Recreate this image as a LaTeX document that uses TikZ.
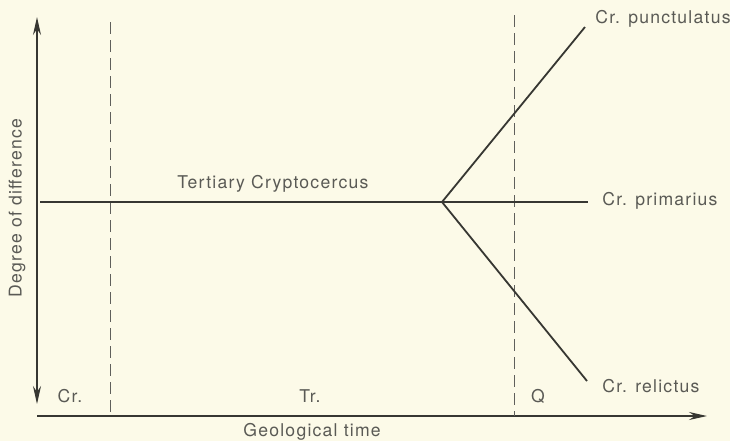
\documentclass[tikz,border=0pt]{standalone}
\usepackage{fontspec}
\setmainfont{TeX Gyre Heros}[LetterSpace=7]
\usetikzlibrary{arrows.meta}
\definecolor{paper}{RGB}{252,250,232}
\definecolor{ink}{RGB}{55,55,50}
\definecolor{inktext}{RGB}{90,90,85}
\tikzset{
  axis/.style={draw=ink,line width=0.6pt},
  lineage/.style={draw=ink,line width=0.9pt},
  epoch/.style={draw=ink!80,line width=0.5pt,dash pattern=on 6pt off 3pt},
  lbl/.style={text=inktext,font=\fontsize{8.8}{10}\selectfont,inner sep=1pt},
}
\begin{document}
\begin{tikzpicture}[x=0.5pt,y=-0.5pt]
  \fill[paper] (0,0) rectangle (730,441);
  \useasboundingbox (0,0) rectangle (730,441);

  % axes
  \coordinate (yTop) at (37,17);
  \coordinate (yBot) at (37,404);
  \coordinate (xLeft) at (37,416);
  \coordinate (xRight) at (707,416);
  \draw[axis,{Stealth[length=9pt,width=4pt]}-{Stealth[length=9pt,width=4pt]}] (yTop) -- (yBot);
  \draw[axis,-{Stealth[length=9pt,width=4pt]}] (xLeft) -- (xRight);
  \node[lbl,rotate=90] (ylab) at (17,208) {Degree of difference};
  \node[lbl,anchor=west] (xlab) at (241,432) {Geological time};

  % period boundaries
  \foreach \x/\t in {110/22,514/15} {
    \draw[epoch] (\x,\t) -- (\x,416);
  }
  \node[lbl] (cr) at (70,396) {Cr.};
  \node[lbl] (tr) at (310,396) {Tr.};
  \node[lbl] (q) at (538,396) {Q};

  % lineages
  \coordinate (start) at (40,202);
  \coordinate (branch) at (442,202);
  \coordinate (endPu) at (585,27);
  \coordinate (endPr) at (588,202);
  \coordinate (endRe) at (587,381);
  \draw[lineage] (start) -- (branch) -- (endPr);
  \draw[lineage] (branch) -- (endPu);
  \draw[lineage] (branch) -- (endRe);
  \node[lbl,anchor=west] (tert) at (175,184) {Tertiary Cryptocercus};
  \node[lbl,anchor=west] (punct) at (593,19) {Cr. punctulatus};
  \node[lbl,anchor=west] (prim) at (600,201) {Cr. primarius};
  \node[lbl,anchor=west] (reli) at (600,386) {Cr. relictus};
\end{tikzpicture}
\end{document}
